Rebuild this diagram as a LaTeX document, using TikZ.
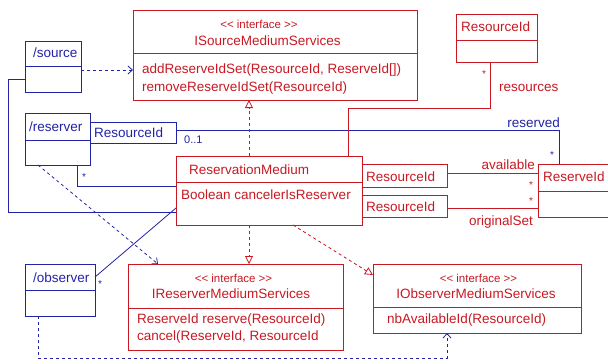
\documentclass[tikz,border=0pt]{standalone}
\usepackage{fontspec}
\setmainfont{Liberation Sans}
\usetikzlibrary{arrows.meta}
\definecolor{umlred}{RGB}{200,25,35}
\definecolor{umlblue}{RGB}{35,35,165}
\begin{document}
\begin{tikzpicture}[x=1pt,y=-1pt,
  redbox/.style={draw=umlred, line width=0.8pt, inner sep=0pt, outer sep=0pt, anchor=north west},
  bluebox/.style={draw=umlblue, line width=0.8pt, inner sep=0pt, outer sep=0pt, anchor=north west},
  redline/.style={draw=umlred, line width=0.8pt},
  blueline/.style={draw=umlblue, line width=0.8pt},
  dashpat/.style={dash pattern=on 3pt off 3pt},
  vhead/.style={-{Straight Barb[length=4.5pt,width=8pt]}},
  trihead/.style={-{Triangle[open,length=8pt,width=8pt,fill=white]}},
  rtxt/.style={inner sep=0pt, text=umlred, font=\fontsize{13.5}{16}\selectfont},
  btxt/.style={inner sep=0pt, text=umlblue, font=\fontsize{13.5}{16}\selectfont},
  rster/.style={inner sep=0pt, text=umlred, font=\fontsize{11.5}{14}\selectfont},
  mult/.style={inner sep=0pt, font=\fontsize{10}{12}\selectfont}
]
\clip (0,0) rectangle (608,364);
\useasboundingbox (0,0) rectangle (608,364);

% ---------- boxes ----------
\node[redbox, minimum width=284pt, minimum height=90pt] (isrc) at (133,10) {};
\node[bluebox, minimum width=56pt, minimum height=51pt] (src) at (25,41) {};
\node[bluebox, minimum width=65pt, minimum height=52pt] (rsv) at (25,113) {};
\node[bluebox, minimum width=86pt, minimum height=21pt] (qb) at (90,122) {};
\node[redbox, minimum width=186pt, minimum height=69pt] (rm) at (176,156) {};
\node[redbox, minimum width=81pt, minimum height=48pt] (resid) at (456,14) {};
\node[redbox, minimum width=85pt, minimum height=23pt] (q1) at (362,164) {};
\node[redbox, minimum width=85pt, minimum height=22pt] (q2) at (362,195) {};
\node[redbox, minimum width=80pt, minimum height=53pt] (rid) at (538,164) {};
\node[redbox, minimum width=215pt, minimum height=86pt] (irsv) at (128,264) {};
\node[redbox, minimum width=208pt, minimum height=69pt] (iobs) at (373,264) {};
\node[bluebox, minimum width=70pt, minimum height=52pt] (obs) at (25,264) {};

% ---------- dividers ----------
\draw[redline] (isrc.west |- 0,53) -- (isrc.east |- 0,53);
\draw[blueline] (src.west |- 0,66) -- (src.east |- 0,66);
\draw[blueline] (rsv.west |- 0,140) -- (rsv.east |- 0,140);
\draw[redline] (rm.west |- 0,182) -- (rm.east |- 0,182);
\draw[redline] (resid.west |- 0,40) -- (resid.east |- 0,40);
\draw[redline] (rid.west |- 0,191) -- (rid.east |- 0,191);
\draw[redline] (irsv.west |- 0,308) -- (irsv.east |- 0,308);
\draw[redline] (iobs.west |- 0,307) -- (iobs.east |- 0,307);
\draw[blueline] (obs.west |- 0,290) -- (obs.east |- 0,290);

% ---------- texts ----------
\node[rster] (isrcst) at (259,24) {<\kern0pt< interface >\kern0pt>};
\node[rtxt] (isrcn) at (267.5,40.5) {ISourceMediumServices};
\node[rtxt, anchor=west] (isrcm1) at (142,70.5) {addReserveIdSet(ResourceId, ReserveId[])};
\node[rtxt, anchor=west] (isrcm2) at (142,88) {removeReserveIdSet(ResourceId)};
\node[btxt, anchor=west] (srct) at (33,53) {/source};
\node[btxt, anchor=west] (rsvt) at (29,127) {/reserver};
\node[btxt, anchor=west] (qbt) at (94,133) {ResourceId};
\node[rtxt, anchor=west] (rmn) at (189,169.5) {ReservationMedium};
\node[rtxt, anchor=west] (rma) at (181,195) {Boolean cancelerIsReserver};
\node[rtxt, anchor=west] (residt) at (461,27) {ResourceId};
\node[rtxt, anchor=west] (q1t) at (366,177) {ResourceId};
\node[rtxt, anchor=west] (q2t) at (366,207) {ResourceId};
\node[rtxt, anchor=west] (ridt) at (543,177) {ReserveId};
\node[rster] (irsvst) at (233.5,278) {<\kern0pt< interface >\kern0pt>};
\node[rtxt] (irsvn) at (231,294) {IReserverMediumServices};
\node[rtxt, anchor=west] (irsvm1) at (137,320.5) {ReserveId reserve(ResourceId)};
\node[rtxt, anchor=west] (irsvm2) at (137,337) {cancel(ReserveId, ResourceId};
\node[rster] (iobsst) at (478.5,278) {<\kern0pt< interface >\kern0pt>};
\node[rtxt] (iobsn) at (476,294) {IObserverMediumServices};
\node[rtxt, anchor=west] (iobsm) at (387,320) {nbAvailableId(ResourceId)};
\node[btxt, anchor=west] (obst) at (33,278) {/observer};

% ---------- blue connectors ----------
\draw[blueline, dashpat, vhead] (src.east |- 0,70) -- (isrc.west |- 0,70);
\draw[blueline] (src.west |- 0,79) -- (8,79) -- (8,212) -- (rm.west |- 0,212);
\draw[blueline] (qb.east |- 0,130) -- (559,130) -- (rid.north -| 559,0);
\draw[blueline] (rsv.south -| 77,0) -- (77,186) -- (rm.west |- 0,186);
\draw[blueline] (rm.west |- 0,208) -- (obs.east |- 0,277);
\draw[blueline, dashpat, vhead] (rsv.south -| 38,0) -- (irsv.north -| 158,0);
\draw[blueline, dashpat, vhead] (obs.south -| 38,0) -- (38,358) -- (447,358) -- (iobs.south -| 447,0);

% ---------- red connectors ----------
\draw[redline] (rm.north -| 348,0) -- (348,108) -- (490,108) -- (resid.south -| 490,0);
\draw[redline] (q1.east |- 0,173) -- (rid.west |- 0,173);
\draw[redline] (q2.east |- 0,208) -- (rid.west |- 0,208);
\draw[redline, dashpat, trihead] (rm.north -| 249,0) -- (isrc.south -| 249,0);
\draw[redline, dashpat, trihead] (rm.south -| 249,0) -- (irsv.north -| 249,0);
\draw[redline, dashpat, trihead] (rm.south -| 293,0) -- (iobs.west |- 0,275);

% ---------- labels ----------
\node[inner sep=0pt, anchor=west, text=umlblue, font=\fontsize{11}{13}\selectfont] (l01) at (184,140) {0..1};
\node[btxt, anchor=east] (lres) at (560,122.5) {reserved};
\node[mult, text=umlblue] (m1) at (552,155) {*};
\node[mult, text=umlblue] (m2) at (84,177) {*};
\node[mult, text=umlblue] (m3) at (100,284) {*};
\node[mult, text=umlred] (m4) at (484,74) {*};
\node[rtxt, anchor=west] (lrsc) at (499,88) {resources};
\node[rtxt, anchor=east] (lav) at (535,164.5) {available};
\node[mult, text=umlred] (m5) at (531,185) {*};
\node[mult, text=umlred] (m6) at (531,201) {*};
\node[rtxt, anchor=east] (lorig) at (533,222) {originalSet};
\end{tikzpicture}
\end{document}
